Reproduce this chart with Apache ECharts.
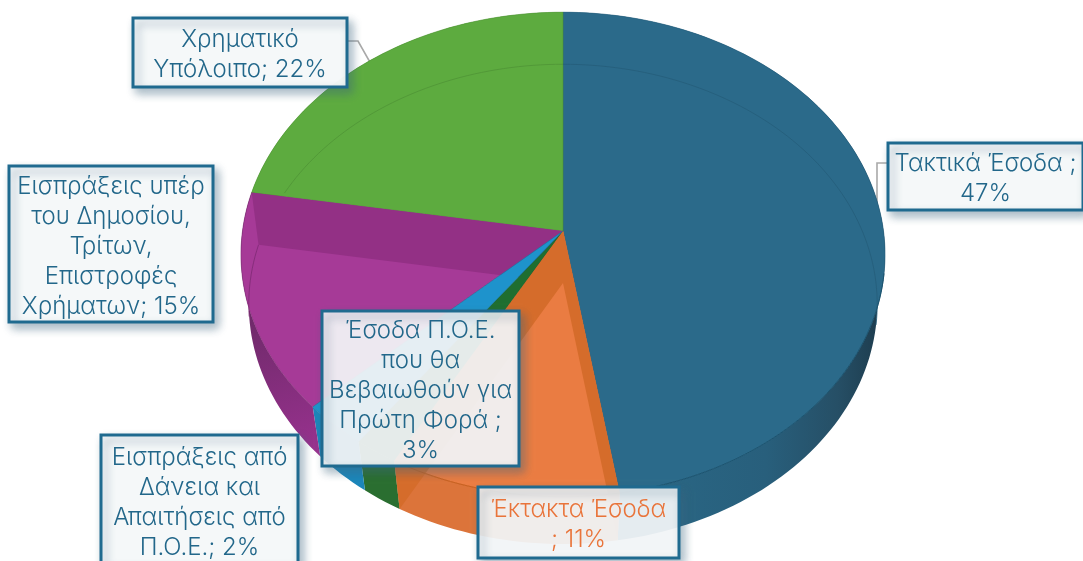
<!DOCTYPE html>
<html><head><meta charset="utf-8">
<style>html,body{margin:0;padding:0;background:#fff}#c{width:1083px;height:561px}</style>
<script src="https://cdn.jsdelivr.net/npm/echarts@6/dist/echarts.min.js"></script>
</head><body><div id="c"></div>
<script>
// ---- data (clockwise from 12 o'clock) ----
const categories = ['Τακτικά Έσοδα','Έκτακτα Έσοδα','Εισπράξεις από Δάνεια και Απαιτήσεις από Π.Ο.Ε.','Έσοδα Π.Ο.Ε. που θα Βεβαιωθούν για Πρώτη Φορά','Εισπράξεις υπέρ του Δημοσίου, Τρίτων, Επιστροφές Χρημάτων','Χρηματικό Υπόλοιπο'];
const values = [47.45, 10.55, 2.0, 3.0, 14.6, 22.4];
const labelPrefixes = [
  'Τακτικά Έσοδα ;\n',
  'Έκτακτα Έσοδα\n; ',
  'Εισπράξεις από\nΔάνεια και\nΑπαιτήσεις από\nΠ.Ο.Ε.; ',
  'Έσοδα Π.Ο.Ε.\nπου θα\nΒεβαιωθούν για\nΠρώτη Φορά ;\n',
  'Εισπράξεις υπέρ\nτου Δημοσίου,\nΤρίτων,\nΕπιστροφές\nΧρήματων; ',
  'Χρηματικό\nΥπόλοιπο; '
];
// ---- styles ----
const topColors  = ['#2B6A8A','#EA7C42','#1F6E30','#1E93CC','#A63A97','#5DAB3F'];
const sideColors = [null,'#DC743A','#2A6E30','#1B86BA',null,'#5DAB3F'];
const edgeColors = ['#245D7A','#CC6426','#185A26','#17729F','#7E2A74','#4F9436'];
const topLayer   = [2,4,4,4,2,2];
const boxes = [[888,143,195,67],[478,487,201,71],[101,435,197,130],[322,311,197,155],[9,166,204,156],[133,18,214,69]];
const boxFills = ['rgba(248,250,251,0.96)','rgba(250,251,252,0.90)','rgba(248,250,251,0.96)','rgba(250,250,251,0.90)','rgba(248,250,251,0.96)','rgba(248,250,251,0.96)'];
const textColors = ['#22678A','#E9743A','#22678A','#22678A','#22678A','#22678A'];

// ---- projection of the tilted pie ----
const CX=563, CY_TOP=231, CY_BOT=283, RX_TOP=320.5, RX_BOT=313, RY_TOP=240, RY_BOT=238, K_TOP=0.097, K_BOT=0.088;
function proj(deg, bottom){
  const t=deg*Math.PI/180, u=Math.sin(t), v=-Math.cos(t), w=1-(bottom?K_BOT:K_TOP)*v;
  return [CX+(bottom?RX_BOT:RX_TOP)*u/w, (bottom?CY_BOT:CY_TOP)+(bottom?RY_BOT:RY_TOP)*v/w];
}
function arc(a0,a1,bottom){
  const n=Math.max(2,Math.ceil(Math.abs(a1-a0)/1.5)), p=[];
  for(let i=0;i<=n;i++) p.push(proj(a0+(a1-a0)*i/n,bottom));
  return p;
}
const total=values.reduce((a,b)=>a+b,0);
const starts=[]; let acc=0;
values.forEach(v=>{starts.push(acc/total*360); acc+=v;});

function poly(points,fill,z2,stroke,lw){
  return {type:'polygon',z2,silent:true,shape:{points},style:{fill,stroke:stroke||null,lineWidth:lw||0}};
}
function wall(deg,fill,z2){
  return poly([[CX,CY_TOP],proj(deg,false),proj(deg,true),[CX,CY_BOT]],fill,z2);
}
function rimLine(points,color,z2,lw){
  return {type:'polyline',z2,silent:true,shape:{points},style:{stroke:color,lineWidth:lw,fill:null}};
}
function sideFillOf(i){
  if(i===4) return new echarts.graphic.LinearGradient(0,0,1,1,[{offset:0,color:'#3A1A3A'},{offset:0.45,color:'#6F2A6A'},{offset:1,color:'#9A3290'}]);
  if(i===0) return new echarts.graphic.LinearGradient(620,0,885,0,[{offset:0,color:'#2A6886'},{offset:0.55,color:'#285F7C'},{offset:0.82,color:'#264F66'},{offset:1,color:'#1C3A4B'}],true);
  return sideColors[i];
}
function renderItem(params,api){
  const i=params.dataIndex, a0=starts[i], a1=a0+api.value(0)/total*360;
  const ch=[];
  // outer side wall
  ch.push(poly(arc(a0,a1,false).concat(arc(a1,a0,true)),sideFillOf(i),1));
  // top face
  ch.push(poly([[CX,CY_TOP]].concat(arc(a0,a1,false)),topColors[i],topLayer[i],edgeColors[i],0.6));
  // cut walls seen through the translucent top
  if(i===1){
    ch.push(wall(a0,'#D56C2B',5));
    ch.push(wall(a1,'#D56C2B',5));
    ch.push(rimLine(arc(a0,a1,false),'#C8601F',6,1));
  }
  if(i===4) ch.push(wall(a1,'#933085',3));
  // far rim of the base seen through the top, near rim of the top
  if(i===0){
    ch.push(rimLine(arc(0,100,true),edgeColors[0],3,0.8));
    ch.push(rimLine(arc(100,a1,false),'#1C5470',3,1));
  }
  if(i===5) ch.push(rimLine(arc(293,360,true),edgeColors[5],3,0.8));
  if(i===4) ch.push(rimLine(arc(262,a1,true),edgeColors[4],3,0.8));
  return {type:'group',children:ch};
}

const FONT='Inter, "Noto Sans", sans-serif';
const graphics=[
  {type:'polyline',z:1,silent:true,shape:{points:[[888,163],[877,163],[877,212]]},style:{stroke:'#A9A9A9',lineWidth:1.6,fill:null}},
  {type:'polyline',z:1,silent:true,shape:{points:[[347,41],[358,41],[371,64]]},style:{stroke:'#A9A9A9',lineWidth:1.6,fill:null}}
];
boxes.forEach((b,i)=>{
  graphics.push({type:'rect',z:100,silent:true,shape:{x:b[0],y:b[1],width:b[2],height:b[3]},
    style:{fill:boxFills[i],stroke:'#1F6A8F',lineWidth:3,shadowBlur:9,shadowOffsetX:4,shadowOffsetY:5,shadowColor:'rgba(60,100,125,0.45)'}});
  graphics.push({type:'text',z:101,silent:true,style:{
    text:labelPrefixes[i]+Math.round(values[i])+'%',
    x:b[0]+b[2]/2,y:b[1]+b[3]/2+2.5,
    textAlign:'center',textVerticalAlign:'middle',
    fontFamily:FONT,fontWeight:300,fontSize:24,lineHeight:30,fill:textColors[i]}});
});

const chart=echarts.init(document.getElementById('c'),null,{renderer:'canvas'});
chart.setOption({
  animation:false,
  backgroundColor:'#fff',
  series:[{type:'custom',coordinateSystem:'none',silent:true,z:2,
    encode:{value:0},
    data:values.map((v,i)=>({name:categories[i],value:[v]})),
    renderItem}],
  graphic:{elements:graphics}
});
</script></body></html>
